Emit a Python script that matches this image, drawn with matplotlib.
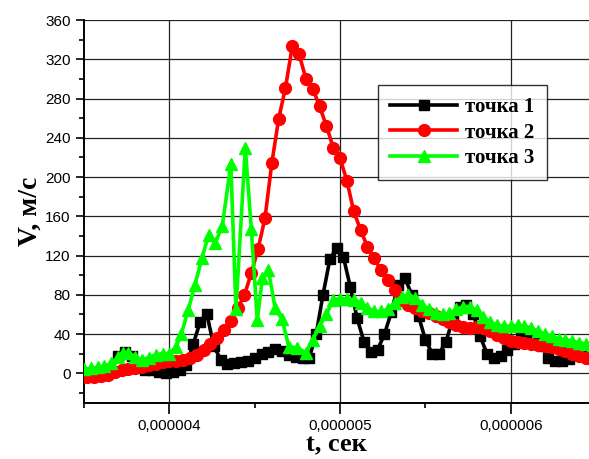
import numpy as np
import matplotlib
matplotlib.use("Agg")
import matplotlib.pyplot as plt
from matplotlib.ticker import FixedLocator, FuncFormatter

# ---- data (time in microseconds, velocity in m/s) ----
t1_us = [3.50, 3.54, 3.58, 3.62, 3.66, 3.70, 3.74, 3.78, 3.82, 3.86, 3.90, 3.94, 3.98, 4.02,
         4.06, 4.10, 4.14, 4.18, 4.22, 4.26, 4.30, 4.34, 4.38, 4.42, 4.46, 4.50, 4.54, 4.58,
         4.62, 4.66, 4.70, 4.74, 4.78, 4.82, 4.86, 4.90, 4.94, 4.98, 5.02, 5.06, 5.10, 5.14,
         5.18, 5.22, 5.26, 5.30, 5.34, 5.38, 5.42, 5.46, 5.50, 5.54, 5.58, 5.62, 5.66, 5.70,
         5.74, 5.78, 5.82, 5.86, 5.90, 5.94, 5.98, 6.02, 6.06, 6.10, 6.14, 6.18, 6.22, 6.26,
         6.30, 6.34, 6.38, 6.42, 6.46]
v1 = [0, -1, -2, -2, 2, 18, 22, 18, 6, 3, 3, 1, 0, 1,
      3, 8, 30, 52, 60, 28, 14, 9, 10, 11, 13, 16, 20, 22,
      25, 23, 19, 17, 16, 16, 40, 80, 116, 128, 118, 88, 56, 32,
      22, 24, 40, 62, 90, 97, 80, 58, 34, 20, 20, 32, 55, 68,
      70, 60, 38, 20, 16, 18, 24, 30, 38, 39, 38, 28, 16, 13,
      12, 15, 19, 22, 25]

t2_us = [3.48, 3.52, 3.56, 3.60, 3.64, 3.68, 3.72, 3.76, 3.80, 3.84, 3.88, 3.92, 3.96, 4.00,
         4.04, 4.08, 4.12, 4.16, 4.20, 4.24, 4.28, 4.32, 4.36, 4.40, 4.44, 4.48, 4.52, 4.56,
         4.60, 4.64, 4.68, 4.72, 4.76, 4.80, 4.84, 4.88, 4.92, 4.96, 5.00, 5.04, 5.08, 5.12,
         5.16, 5.20, 5.24, 5.28, 5.32, 5.36, 5.40, 5.44, 5.48, 5.52, 5.56, 5.60, 5.64, 5.68,
         5.72, 5.76, 5.80, 5.84, 5.88, 5.92, 5.96, 6.00, 6.04, 6.08, 6.12, 6.16, 6.20, 6.24,
         6.28, 6.32, 6.36, 6.40, 6.44, 6.48]
v2 = [-4, -4, -4, -3, -2, 1, 3.5, 4.5, 5.5, 6.5, 8, 9, 11, 12,
      13, 14, 15.5, 19, 24, 30, 36, 44, 53, 66, 80, 102, 127, 158,
      214, 259, 291, 333, 325, 300, 290, 272, 252, 230, 219, 196, 165, 146,
      129, 117, 105, 95, 85, 75, 70, 66, 63, 61, 58, 55, 52, 49,
      47, 46, 47, 46, 43, 39, 36, 33, 32, 31, 30, 29, 28, 27,
      25, 23, 20, 18, 16, 14]

t3_us = [3.50, 3.54, 3.58, 3.62, 3.66, 3.70, 3.73, 3.76, 3.80, 3.84, 3.88, 3.92, 3.96, 4.00,
         4.04, 4.07, 4.11, 4.15, 4.19, 4.23, 4.27, 4.31, 4.36, 4.39, 4.445, 4.48, 4.515, 4.545,
         4.58, 4.62, 4.66, 4.70, 4.75, 4.80, 4.84, 4.88, 4.92, 4.96, 5.00, 5.04, 5.08, 5.12,
         5.16, 5.20, 5.24, 5.28, 5.32, 5.36, 5.40, 5.44, 5.48, 5.52, 5.56, 5.60, 5.64, 5.68,
         5.72, 5.76, 5.80, 5.84, 5.88, 5.92, 5.96, 6.00, 6.04, 6.08, 6.12, 6.16, 6.20, 6.24,
         6.28, 6.32, 6.36, 6.40, 6.44, 6.48]
v3 = [4, 5, 6, 7, 10, 17, 21, 21, 17, 14, 16, 19, 20, 20,
      27, 40, 64, 90, 117, 141, 133, 150, 213, 65, 230, 147, 54, 97,
      105, 66, 55, 27, 26, 21, 34, 48, 60, 75, 76, 76, 75, 72,
      67, 63, 63, 65, 72, 78, 80, 77, 70, 65, 61, 60, 61, 65,
      68, 68, 64, 57, 52, 49, 48, 48, 49, 48, 46, 43, 40, 38,
      35, 34, 33, 31, 30, 29]

labels = ["точка 1", "точка 2", "точка 3"]
x_ticks_us = [4, 5, 6]
y_ticks = [0, 40, 80, 120, 160, 200, 240, 280, 320, 360]

# ---- figure ----
fig = plt.figure(figsize=(5.89, 4.59), dpi=100)
ax = fig.add_axes([84 / 589, 1 - 402.7 / 459, 1 - 84 / 589, (402.7 - 20) / 459])

sc = 1e-6
ax.plot(np.array(t1_us) * sc, v1, color="black", lw=2.6, marker="s", ms=7,
        label=labels[0], zorder=3)
ax.plot(np.array(t2_us) * sc, v2, color="#ff0000", lw=2.6, marker="o", ms=8.5,
        label=labels[1], zorder=4)
ax.plot(np.array(t3_us) * sc, v3, color="#00ff00", lw=2.6, marker="^", ms=9,
        label=labels[2], zorder=5)

ax.set_xlim(3.5e-6, 6.458e-6)
ax.set_ylim(-30, 360)

ax.xaxis.set_major_locator(FixedLocator([v * sc for v in x_ticks_us]))
ax.xaxis.set_minor_locator(FixedLocator([v * sc for v in [3.5, 4.5, 5.5, 6.5]]))
ax.xaxis.set_major_formatter(FuncFormatter(lambda x, p: f"{x:.6f}".replace(".", ",")))
ax.yaxis.set_major_locator(FixedLocator(y_ticks))
ax.yaxis.set_minor_locator(FixedLocator(list(range(-20, 360, 40))))

ax.grid(True, which="major", color="#222222", lw=0.9)
ax.set_axisbelow(True)

for s in ["top", "right"]:
    ax.spines[s].set_visible(False)
for s in ["left", "bottom"]:
    ax.spines[s].set_linewidth(1.4)

tick_font = "Liberation Sans"
ax.tick_params(axis="both", which="major", direction="out", length=6, width=1.2,
               labelsize=11)
ax.tick_params(axis="both", which="minor", direction="out", length=3.5, width=1.2)
ax.tick_params(axis="x", which="major", length=8, pad=4)
for lab in ax.get_xticklabels() + ax.get_yticklabels():
    lab.set_fontfamily(tick_font)

ax.set_xlabel("t, сек", fontfamily="Liberation Serif", fontweight="bold", fontsize=19,
              labelpad=0)
ax.set_ylabel("V, м/с", fontfamily="Liberation Serif", fontweight="bold", fontsize=20,
              labelpad=2)

leg = ax.legend(loc="upper left", bbox_to_anchor=(378 / 589, 1 - 85 / 459),
                bbox_transform=fig.transFigure, frameon=True, fancybox=False,
                prop={"family": "Liberation Serif", "weight": "bold", "size": 15},
                handlelength=3.2, handletextpad=0.4, labelspacing=0.25,
                borderpad=0.6, borderaxespad=0)
leg.get_frame().set_edgecolor("black")
leg.get_frame().set_linewidth(1.0)
leg.set_zorder(10)

fig.savefig("out.png", dpi=100)
